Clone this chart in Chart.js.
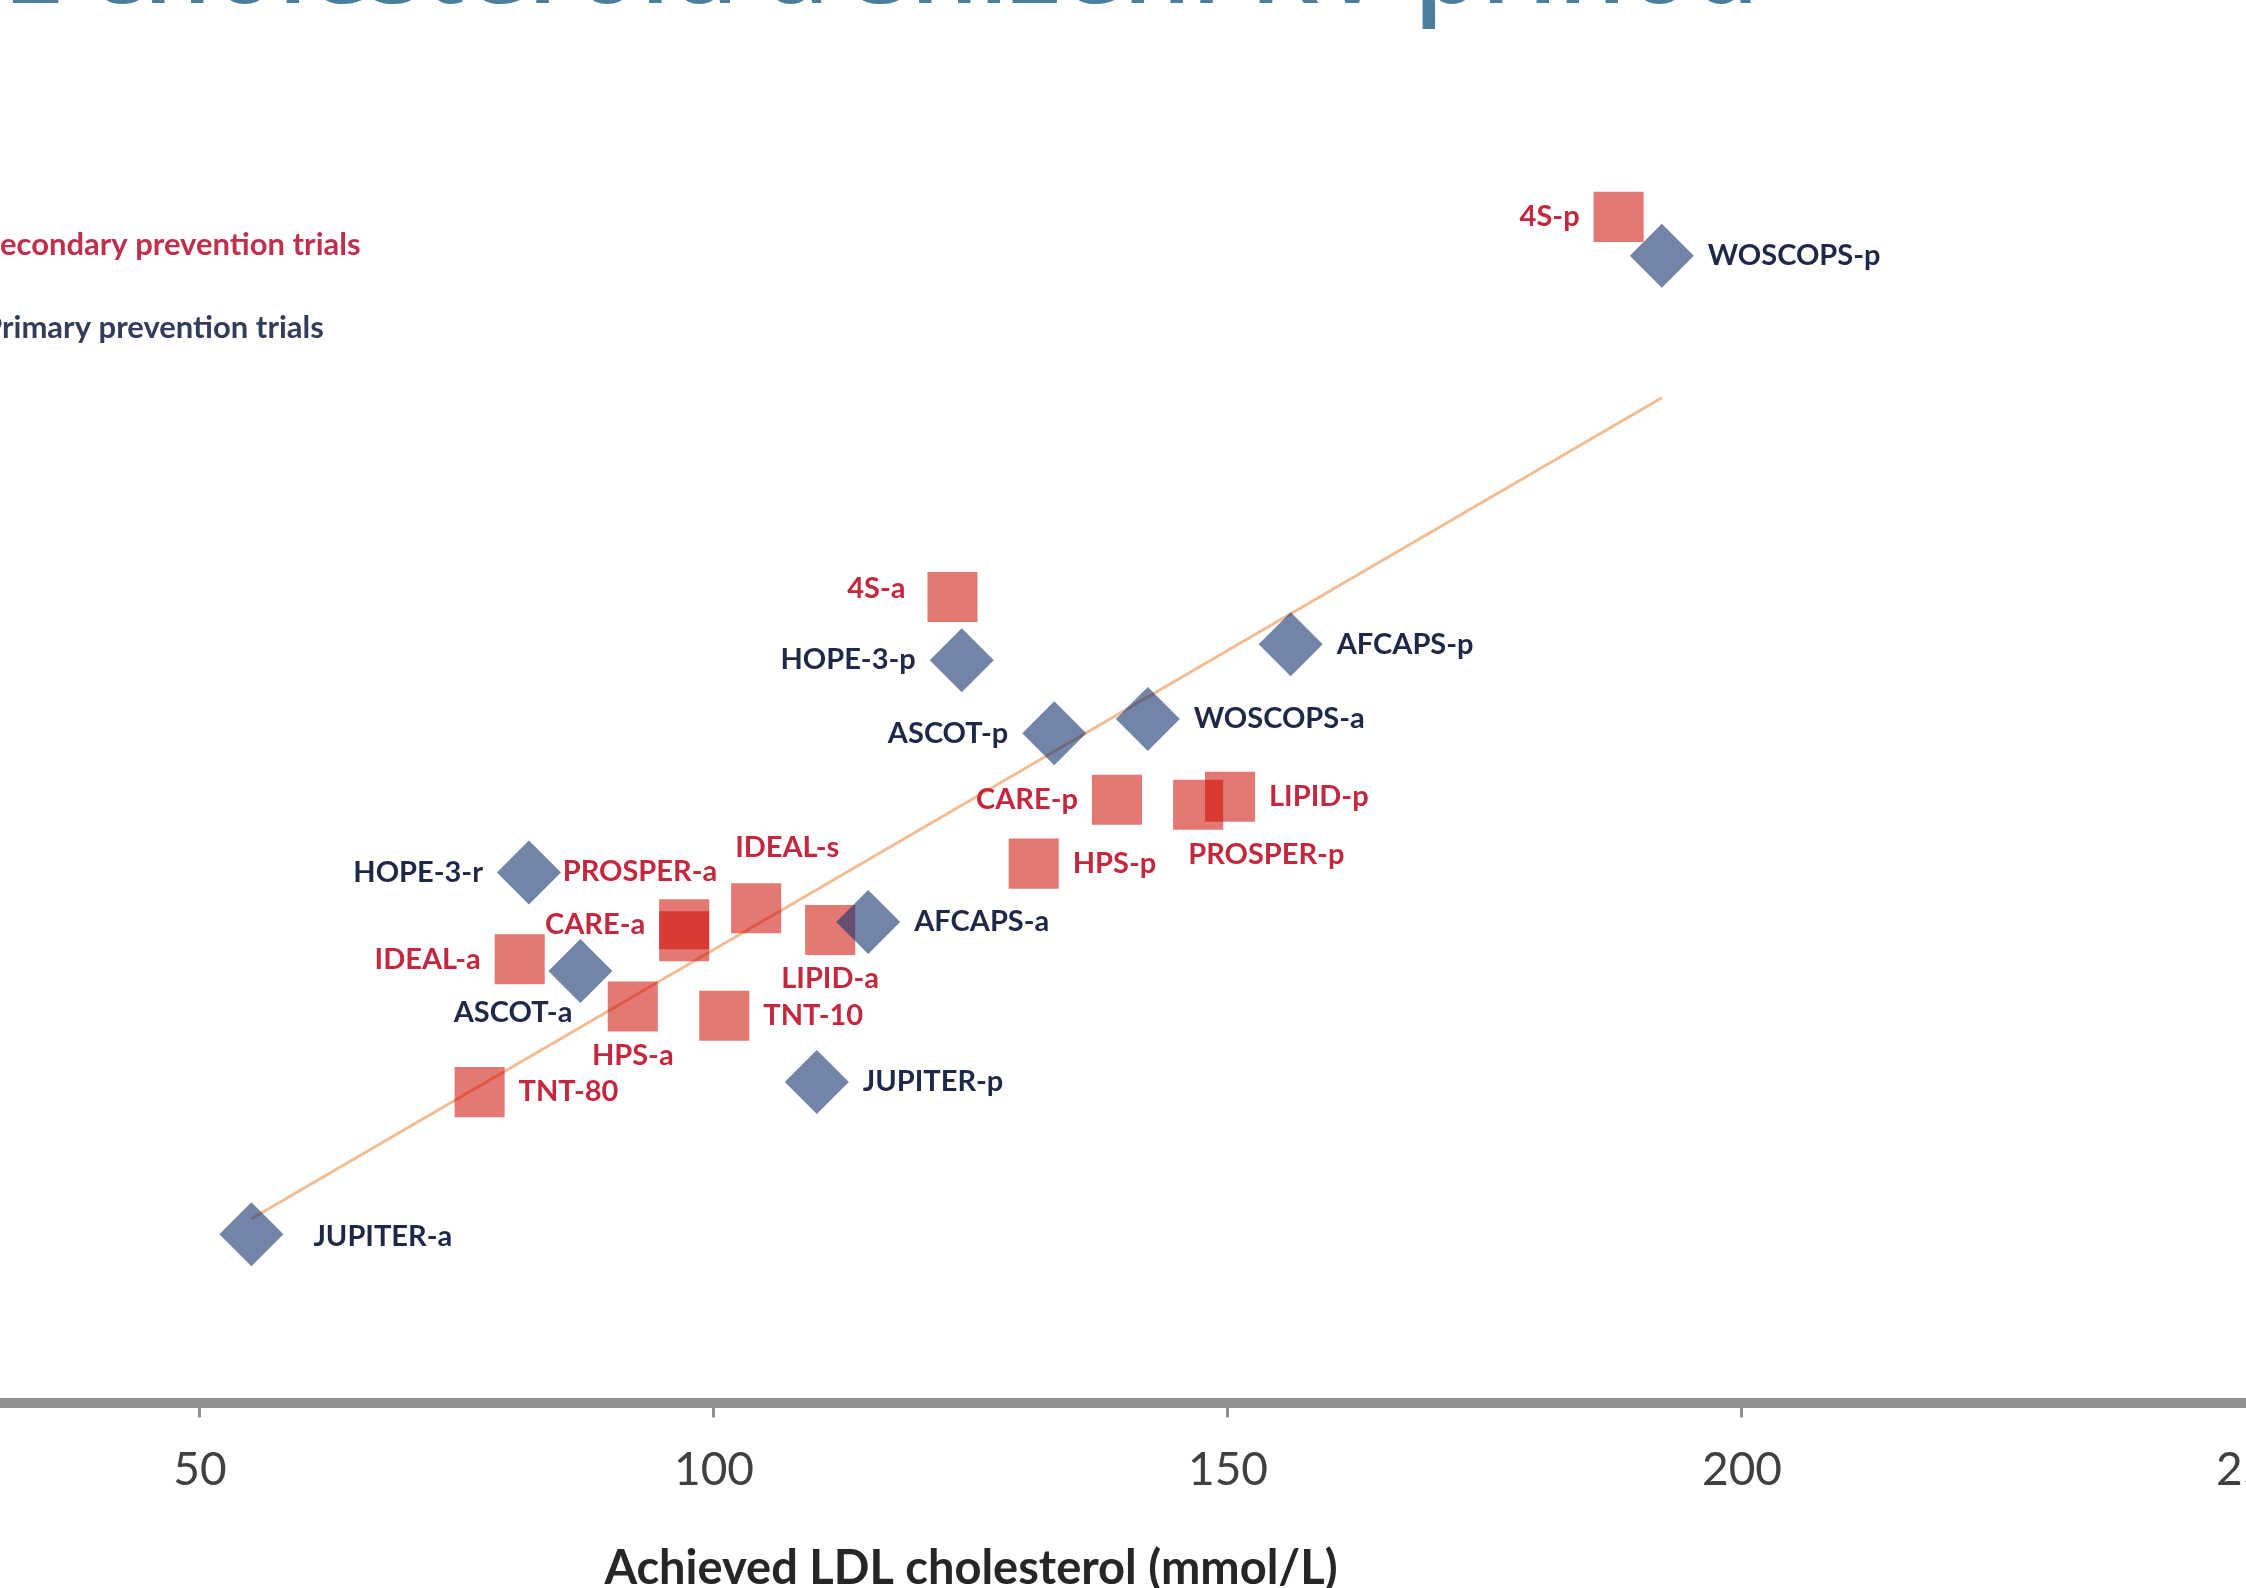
<!DOCTYPE html>
<html>
<head>
<meta charset="utf-8">
<script src="https://cdn.jsdelivr.net/npm/chart.js@4.4.1/dist/chart.umd.min.js"></script>
<style>
  html, body { margin: 0; padding: 0; background: #fff; overflow: hidden; }
  #frame { position: relative; width: 2246px; height: 1588px; overflow: hidden; }
  #holder { position: absolute; left: -456px; top: -111px; width: 2777px; height: 1722px; }
</style>
</head>
<body>
<div id="frame"><div id="holder"><canvas id="ldlChart"></canvas></div></div>
<script>
// secondary prevention trials (squares)
const secondaryNames = ['4S-p', '4S-a', 'CARE-p', 'LIPID-p', 'PROSPER-p', 'HPS-p', 'IDEAL-s', 'CARE-a', 'PROSPER-a', 'LIPID-a', 'IDEAL-a', 'HPS-a', 'TNT-10', 'TNT-80'];
const secondaryLdl   = [188.0, 123.2, 139.2, 150.2, 147.1, 131.1, 104.1, 97.1, 97.1, 111.3, 81.1, 92.1, 101.0, 77.2];
const secondaryRate  = [28.40, 19.30, 14.45, 14.52, 14.33, 12.92, 11.85, 11.47, 11.18, 11.33, 10.63, 9.50, 9.28, 7.45];

// primary prevention trials (diamonds)
const primaryNames = ['WOSCOPS-p', 'HOPE-3-p', 'AFCAPS-p', 'ASCOT-p', 'WOSCOPS-a', 'HOPE-3-r', 'AFCAPS-a', 'ASCOT-a', 'JUPITER-p', 'JUPITER-a'];
const primaryLdl   = [192.2, 124.1, 156.1, 133.1, 142.2, 82.0, 115.0, 87.0, 110.0, 55.0];
const primaryRate  = [27.47, 17.79, 18.17, 16.04, 16.38, 12.71, 11.52, 10.35, 7.69, 4.05];

// trend line end points
const trendLdl  = [55.0, 192.2];
const trendRate = [4.42, 24.07];

const xTicks = [50, 100, 150, 200, 250];

// where each label sits next to its marker
const secondarySides = ['left', 'leftHigh', 'left', 'right', 'belowRight', 'right', 'aboveRight', 'left', 'aboveLeft', 'below', 'left', 'below', 'right', 'right'];
const primarySides   = ['right', 'left', 'right', 'left', 'right', 'left', 'right', 'belowLeft', 'right', 'rightFar'];

const RED_TEXT = '#c4283e';
const NAVY_TEXT = '#1f2846';

const toPoints = (xs, ys) => xs.map((x, i) => ({ x: x, y: ys[i] }));

const labelPlugin = {
  id: 'trialLabels',
  afterDatasetsDraw(chart) {
    const ctx = chart.ctx;
    const area = chart.chartArea;
    ctx.save();
    ctx.textBaseline = 'middle';
    ctx.font = 'bold 29px Lato';
    chart.data.datasets.forEach((ds, i) => {
      if (!ds.names) return;
      const meta = chart.getDatasetMeta(i);
      ctx.fillStyle = ds.textColor;
      meta.data.forEach((pt, j) => {
        const h = ds.half;
        const side = ds.sides[j];
        let x = pt.x, y = pt.y, align = 'center';
        if (side === 'right') { x += h + 14; align = 'left'; }
        else if (side === 'rightFar') { x += h + 30; y += 2; align = 'left'; }
        else if (side === 'left') { x -= h + 14; align = 'right'; }
        else if (side === 'leftHigh') { x -= h + 22; y -= 8; align = 'right'; }
        else if (side === 'below') { y += h + 24; }
        else if (side === 'belowRight') { x -= 10; y += h + 25; align = 'left'; }
        else if (side === 'belowLeft') { x -= 8; y += h + 10; align = 'right'; }
        else if (side === 'aboveRight') { x -= 21; y -= h + 36; align = 'left'; }
        else if (side === 'aboveLeft') { x += h + 8; y -= h + 40; align = 'right'; }
        ctx.textAlign = align;
        ctx.fillText(ds.names[j], x, y);
      });
    });

    // legend inside the plot
    const items = [
      { text: 'Secondary prevention trials', color: '#c0304c', fill: 'rgba(205,10,0,0.55)', style: 'rect' },
      { text: 'Primary prevention trials', color: '#333c5a', fill: 'rgba(20,50,110,0.6)', style: 'rectRot' }
    ];
    ctx.font = 'bold 31px Lato';
    ctx.textAlign = 'left';
    items.forEach((it, k) => {
      const tx = area.left + 297;
      const ty = area.top + 95 + k * 83;
      Chart.helpers.drawPoint(ctx, { pointStyle: it.style, radius: 16, borderWidth: 0 }, tx - 34, ty);
      ctx.fillStyle = it.fill;
      ctx.fill();
      ctx.fillStyle = it.color;
      ctx.fillText(it.text, tx, ty);
    });
    ctx.restore();
  }
};

new Chart(document.getElementById('ldlChart'), {
  type: 'scatter',
  data: {
    datasets: [
      {
        label: 'Primary prevention trials',
        data: toPoints(primaryLdl, primaryRate),
        names: primaryNames,
        sides: primarySides,
        half: 32,
        textColor: NAVY_TEXT,
        pointStyle: 'rectRot',
        pointRadius: 32,
        pointHoverRadius: 32,
        backgroundColor: 'rgba(20,50,110,0.6)',
        borderWidth: 0,
        order: 0
      },
      {
        label: 'Secondary prevention trials',
        data: toPoints(secondaryLdl, secondaryRate),
        names: secondaryNames,
        sides: secondarySides,
        half: 25,
        textColor: RED_TEXT,
        pointStyle: 'rect',
        pointRadius: 35.4,
        pointHoverRadius: 35.4,
        backgroundColor: 'rgba(205,10,0,0.55)',
        borderWidth: 0,
        order: 1
      },
      {
        type: 'line',
        label: 'Trend',
        data: toPoints(trendLdl, trendRate),
        showLine: true,
        borderColor: 'rgba(240,165,110,0.75)',
        borderWidth: 3,
        pointRadius: 0,
        fill: false,
        order: 2
      }
    ]
  },
  options: {
    responsive: true,
    maintainAspectRatio: false,
    animation: false,
    layout: { padding: { left: 0, right: 60, top: 0, bottom: 10 } },
    plugins: {
      legend: { display: false },
      tooltip: { enabled: false },
      title: {
        display: true,
        text: 'Vztah LDL cholesterolu a snížení KV příhod',
        align: 'start',
        color: '#4a7e9c',
        font: { family: 'Open Sans', size: 108, weight: '600', lineHeight: 1.2 },
        padding: { top: 18, bottom: 113.4 }
      }
    },
    scales: {
      x: {
        type: 'linear',
        position: 'bottom',
        min: 0,
        max: 250,
        afterBuildTicks: (axis) => { axis.ticks = xTicks.map(v => ({ value: v })); },
        grid: { display: true, drawOnChartArea: false, drawTicks: true, tickLength: 14, color: '#8f8f8f', lineWidth: 3 },
        border: { display: true, color: '#909090', width: 10 },
        ticks: { color: '#404040', padding: 25, font: { family: 'Lato', size: 46 } },
        title: {
          display: true,
          text: 'Achieved LDL cholesterol (mmol/L)',
          color: '#262626',
          font: { family: 'Lato', size: 47, weight: 'bold', lineHeight: 1.2 },
          padding: { top: 18, bottom: 4 }
        }
      },
      y: {
        min: 0,
        max: 30,
        afterFit: (axis) => { axis.width = 142; },
        ticks: { display: false },
        grid: { display: false },
        border: { display: false }
      }
    }
  },
  plugins: [labelPlugin]
});
</script>
</body>
</html>
